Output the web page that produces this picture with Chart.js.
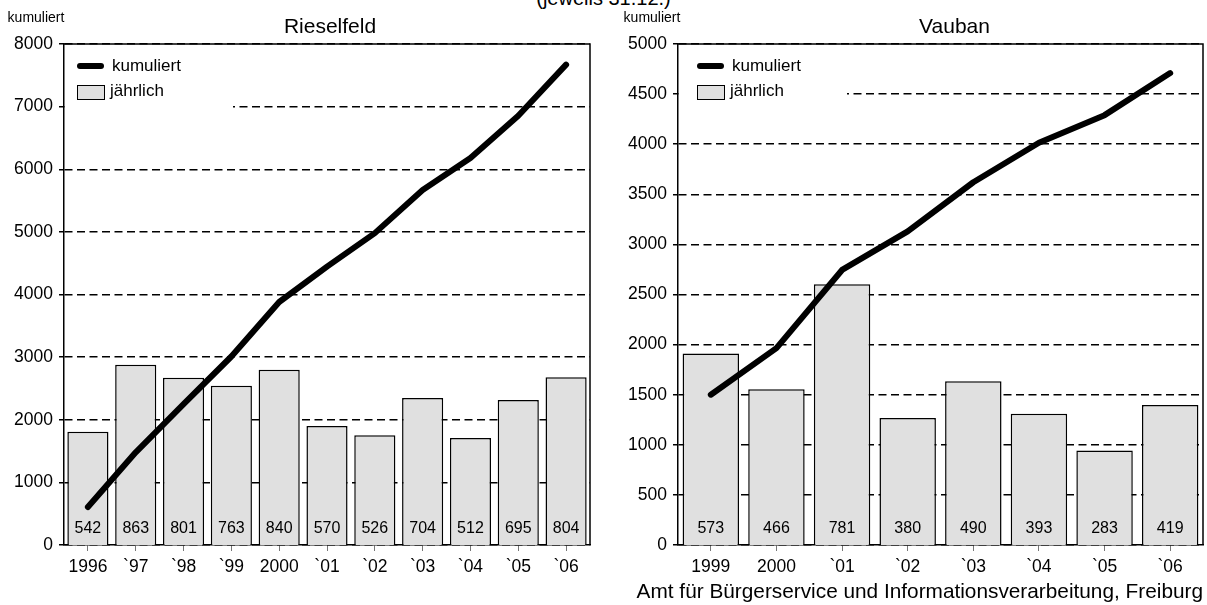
<!DOCTYPE html>
<html>
<head>
<meta charset="utf-8">
<script src="https://cdn.jsdelivr.net/npm/chart.js@4.4.0/dist/chart.umd.min.js"></script>
<style>
  body { margin: 0; background: #fff; width: 1207px; height: 605px; overflow: hidden; position: relative;
         font-family: "Liberation Sans", Arial, sans-serif; }
  #topTitle { position: absolute; left: 0; top: -12px; width: 1207px; text-align: center; font-size: 20px; line-height: 20px; }
  .panel { position: absolute; top: 0; height: 605px; }
</style>
</head>
<body>
<div id="topTitle">(jeweils 31.12.)</div>
<div class="panel" style="left:0;width:600px"><canvas id="riesChart"></canvas></div>
<div class="panel" style="left:600px;width:607px"><canvas id="vaubChart"></canvas></div>
<script>
const FONT = "'Liberation Sans', Arial, sans-serif";

// Rieselfeld
const riesYears = ["1996", "`97", "`98", "`99", "2000", "`01", "`02", "`03", "`04", "`05", "`06"];
const riesYearly = [542, 863, 801, 763, 840, 570, 526, 704, 512, 695, 804];
const riesCumulative = [607, 1480, 2250, 3010, 3880, 4445, 4980, 5670, 6180, 6855, 7670];

// Vauban
const vaubYears = ["1999", "2000", "`01", "`02", "`03", "`04", "`05", "`06"];
const vaubYearly = [573, 466, 781, 380, 490, 393, 283, 419];
const vaubCumulative = [1500, 1965, 2745, 3130, 3620, 4015, 4290, 4710];

const legendLabels = ["kumuliert", "jährlich"];

// panel title, "kumuliert" label, legend box, frame and footer
const panelPlugin = {
  id: "panel",
  beforeDatasetsDraw(chart) {
    const a = chart.chartArea;
    const ctx = chart.ctx;
    // legend sits on a white patch, hides the upper grid line
    ctx.save();
    ctx.fillStyle = "#fff";
    ctx.fillRect(a.left + 1, a.top + 1, 168, 70);
    ctx.restore();
  },
  afterDatasetDraw(chart, args) {
    // yearly values written at the foot of each bar
    if (args.index !== 0) return;
    const ctx = chart.ctx;
    const values = chart.data.datasets[0].data;
    ctx.save();
    ctx.font = "16px " + FONT;
    ctx.fillStyle = "#000";
    ctx.textAlign = "center";
    ctx.textBaseline = "middle";
    args.meta.data.forEach((bar, i) => {
      ctx.fillText(values[i], bar.x, chart.chartArea.bottom - 16);
    });
    ctx.restore();
  },
  afterDraw(chart, args, opts) {
    const a = chart.chartArea;
    const ctx = chart.ctx;
    ctx.save();
    // frame top + right
    ctx.strokeStyle = "#000";
    ctx.lineWidth = 1.5;
    ctx.beginPath();
    ctx.moveTo(a.left, a.top);
    ctx.lineTo(a.right, a.top);
    ctx.lineTo(a.right, a.bottom);
    ctx.stroke();

    ctx.fillStyle = "#000";
    ctx.textBaseline = "middle";
    ctx.textAlign = "center";
    ctx.font = "21px " + FONT;
    ctx.fillText(opts.title, (a.left + a.right) / 2 + opts.titleShift, 27);
    ctx.font = "14px " + FONT;
    ctx.fillText("kumuliert", opts.yLabelX, 18);

    if (opts.footer) {
      ctx.textAlign = "right";
      ctx.font = "20.8px " + FONT;
      ctx.fillText(opts.footer, a.right, 592);
    }

    // legend
    const lx = a.left + opts.legendX;
    ctx.lineCap = "round";
    ctx.lineWidth = 6;
    ctx.beginPath();
    ctx.moveTo(lx + 3, a.top + 22);
    ctx.lineTo(lx + 24, a.top + 22);
    ctx.stroke();
    ctx.fillStyle = "#e0e0e0";
    ctx.lineWidth = 1;
    ctx.fillRect(lx, a.top + 41, 27, 14);
    ctx.strokeRect(lx + 0.5, a.top + 41.5, 27, 14);
    ctx.fillStyle = "#000";
    ctx.textAlign = "left";
    ctx.font = "17px " + FONT;
    ctx.fillText(legendLabels[0], lx + 35, a.top + 22);
    ctx.fillText(legendLabels[1], lx + 33, a.top + 47);
    ctx.restore();
  },
};

function makeChart(id, cfg) {
  return new Chart(document.getElementById(id), {
    type: "bar",
    data: {
      labels: cfg.labels,
      datasets: [
        {
          type: "bar",
          data: cfg.yearly,
          yAxisID: "yBar",
          order: 1,
          backgroundColor: "#e0e0e0",
          borderColor: "#000",
          borderWidth: 1.5,
          categoryPercentage: 1,
          barPercentage: 0.86,
        },
        {
          type: "line",
          data: cfg.cumulative,
          yAxisID: "y",
          order: 0,
          borderColor: "#000",
          borderWidth: 6,
          pointRadius: 0,
          tension: 0,
          borderCapStyle: "round",
          borderJoinStyle: "round",
        },
      ],
    },
    options: {
      responsive: true,
      maintainAspectRatio: false,
      animation: false,
      layout: { padding: { left: 0, right: cfg.padRight, top: 44, bottom: 0 } },
      plugins: {
        legend: { display: false },
        tooltip: { enabled: false },
        panel: cfg.panel,
      },
      scales: {
        x: {
          offset: true,
          grid: { offset: false, drawOnChartArea: false, tickLength: 6, color: "#777" },
          border: { color: "#000", width: 1.5 },
          ticks: { color: "#000", font: { size: 17.5, family: FONT }, padding: 6, maxRotation: 0, autoSkip: false },
          afterFit(scale) { scale.height = 60; },
        },
        y: {
          min: 0,
          max: cfg.yMax,
          ticks: {
            stepSize: cfg.yStep,
            color: "#000",
            font: { size: 17.5, family: FONT },
            padding: 6,
            callback: (v) => String(v),
          },
          grid: { color: "#000", lineWidth: 1.5, tickLength: 5, tickBorderDash: [], borderDash: [8, 4.5] },
          border: { color: "#000", width: 1.5, dash: [8, 4.5] },
          afterFit(scale) { scale.width = cfg.yWidth; },
        },
        yBar: { display: false, min: 0, max: cfg.barMax },
      },
    },
    plugins: [panelPlugin],
  });
}

makeChart("riesChart", {
  labels: riesYears,
  yearly: riesYearly,
  cumulative: riesCumulative,
  yMax: 8000,
  yStep: 1000,
  barMax: 2400,
  yWidth: 64,
  padRight: 10,
  panel: { title: "Rieselfeld", titleShift: 3, yLabelX: 36, legendX: 13 },
});

makeChart("vaubChart", {
  labels: vaubYears,
  yearly: vaubYearly,
  cumulative: vaubCumulative,
  yMax: 5000,
  yStep: 500,
  barMax: 1500,
  yWidth: 78,
  padRight: 4,
  panel: {
    title: "Vauban",
    titleShift: 14,
    yLabelX: 52,
    legendX: 19,
    footer: "Amt für Bürgerservice und Informationsverarbeitung, Freiburg",
  },
});
</script>
</body>
</html>
